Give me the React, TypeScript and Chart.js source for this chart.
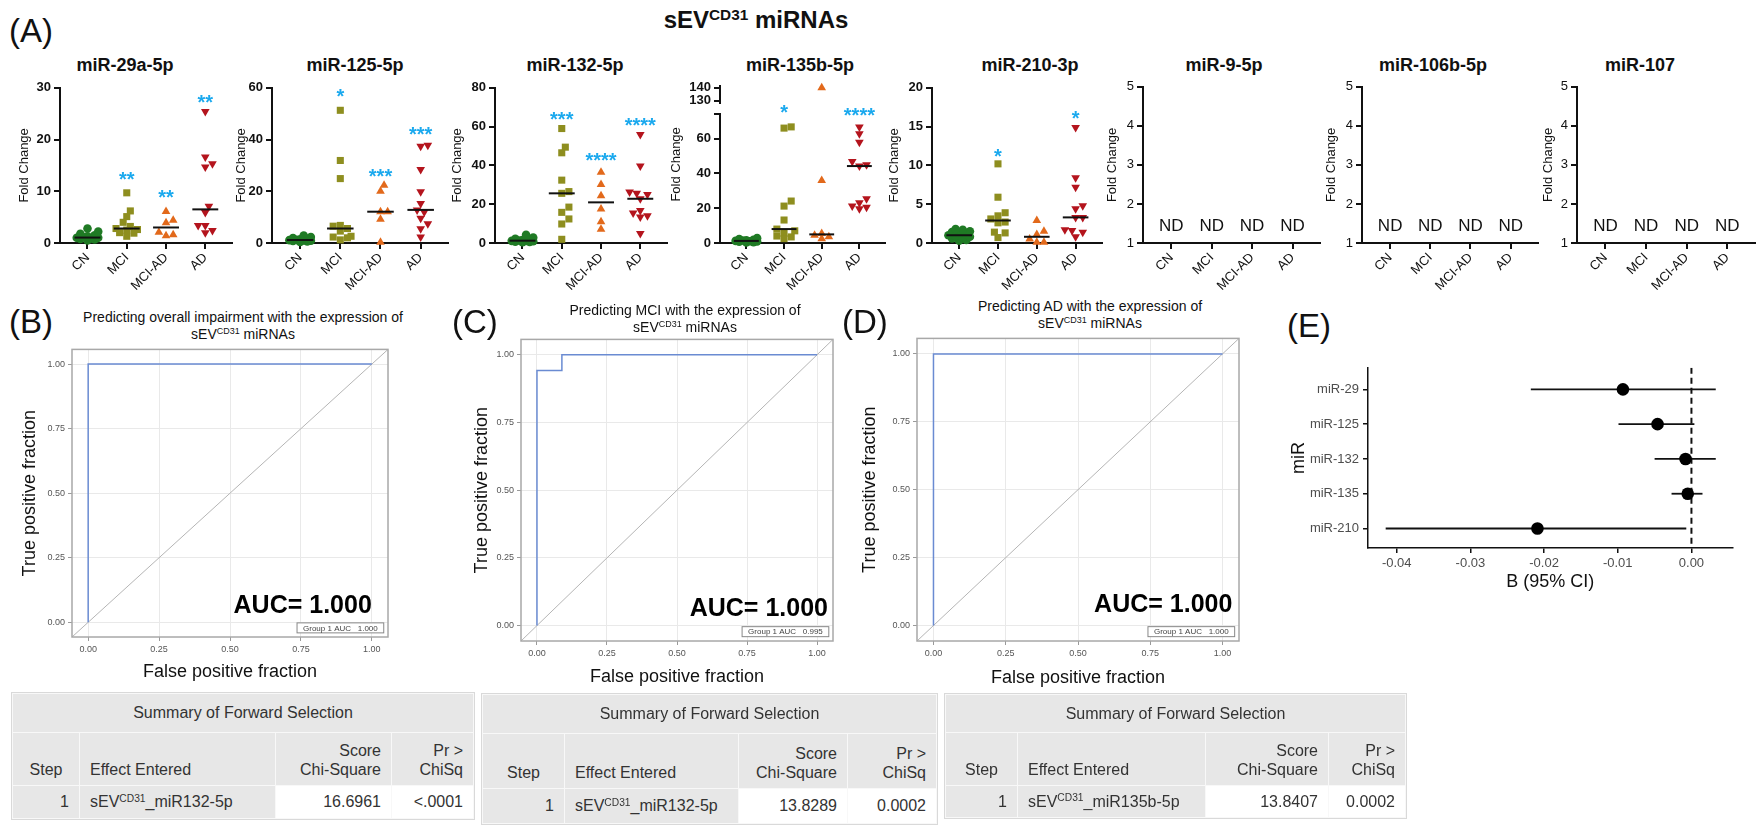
import React, { useEffect, useRef } from 'react';
import { Chart, registerables } from 'chart.js';
Chart.register(...registerables);

const FONT = "'Liberation Sans', Arial, Helvetica, sans-serif";
const INK = '#111111';
const STAR_BLUE = '#1ba9ee';

// ---------- (A) dot plots ----------
const GROUPS = ['CN', 'MCI', 'MCI-AD', 'AD'];
const GROUP_COLORS = ['#1f7a24', '#8e8e1f', '#e2691b', '#b4141d'];
const GROUP_SHAPES = ['circle', 'rect', 'triangle', 'triangle'];
const GROUP_ROTATION = [0, 0, 0, 180];
const GROUP_RADIUS = [4.3, 5, 5, 5];

const M29_CN = [0.5, 0.7, 0.8, 0.9, 1.0, 1.0, 1.1, 1.3, 1.5, 1.8, 2.2, 2.8];
const M29_MCI = [9.7, 6.2, 5.1, 4.0, 3.2, 2.8, 2.6, 2.5, 2.0, 1.9, 1.3];
const M29_MCIAD = [6.1, 4.4, 3.9, 2.1, 1.4, 1.6];
const M29_AD = [25.4, 16.6, 15.3, 14.7, 7.1, 5.9, 3.4, 3.4, 2.0, 2.4];
const M29_TICKS = [0, 10, 20, 30];
const M29_STARS = ['', '**', '**', '**'];
const M29_STAR_Y = [0, 13.3, 9.7, 28.2];

const M125_CN = [0.4, 0.6, 0.8, 0.9, 1.0, 1.1, 1.2, 1.4, 1.6, 1.9, 2.3, 2.9];
const M125_MCI = [51.3, 31.9, 24.9, 6.8, 6.5, 5.6, 4.6, 2.6, 2.3, 2.0, 1.2];
const M125_MCIAD = [22.3, 20.0, 12.1, 12.1, 9.2, 0.3];
const M125_AD = [37.4, 37.8, 28.4, 19.8, 15.3, 12.8, 12.0, 9.6, 7.4, 5.5, 2.3];
const M125_TICKS = [0, 20, 40, 60];
const M125_STARS = ['', '*', '***', '***'];
const M125_STAR_Y = [0, 58.7, 27.5, 43.8];

const M132_CN = [0.4, 0.6, 0.7, 0.9, 1.0, 1.1, 1.3, 1.5, 1.8, 2.2, 2.8, 4.2];
const M132_MCI = [59.0, 49.4, 46.5, 32.4, 26.5, 25.6, 18.5, 15.8, 12.4, 9.8, 1.9];
const M132_MCIAD = [36.5, 30.2, 24.4, 17.5, 11.0, 7.1];
const M132_AD = [55.9, 39.7, 26.3, 25.6, 25.0, 22.8, 16.8, 15.5, 14.1, 13.4, 4.9];
const M132_TICKS = [0, 20, 40, 60, 80];
const M132_STARS = ['', '***', '****', '****'];
const M132_STAR_Y = [0, 66.4, 44.8, 63.3];

const M135_CN = [0.3, 0.5, 0.7, 0.9, 1.0, 1.2, 1.4, 1.6, 1.9, 2.3, 2.8];
const M135_MCI = [66.7, 66.0, 24.1, 21.2, 13.2, 8.0, 7.0, 5.5, 4.0, 3.5, 2.5];
const M135_MCIAD = [140, 35.9, 5.4, 4.5, 3.6, 2.5];
const M135_AD = [66.7, 62.7, 57.9, 46.8, 45.0, 44.2, 25.4, 23.1, 21.2, 20.5, 19.7];
const M135_TICKS = [0, 20, 40, 60];
const M135_UP_TICKS = [130, 140];
const M135_STARS = ['', '*', '', '****'];
const M135_STAR_Y = [0, 77.6, 0, 76.3];
const BROKEN_LOWER_MAX = 74.3;
const BROKEN_UP_MIN = 128.5;
const BROKEN_UP_MAX = 141.5;

const M210_CN = [0.3, 0.4, 0.6, 0.7, 0.8, 0.9, 1.0, 1.1, 1.2, 1.4, 1.5, 1.7, 1.8];
const M210_MCI = [10.2, 5.9, 3.9, 3.5, 3.1, 2.7, 2.6, 1.4, 1.3, 0.7];
const M210_MCIAD = [2.9, 1.5, 1.1, 0.5, 0.1, 0.1];
const M210_AD = [14.9, 8.4, 7.2, 4.8, 4.4, 3.3, 3.3, 1.7, 1.6, 1.4, 0.8];
const M210_TICKS = [0, 5, 10, 15, 20];
const M210_STARS = ['', '*', '', '*'];
const M210_STAR_Y = [0, 11.8, 0, 16.7];

const ND_TICKS = [1, 2, 3, 4, 5];
const ND_TEXT = 'ND';
const ND_Y = 1.45;

// ---------- (B)-(D) ROC ----------
const ROC_MIN = -0.057;
const ROC_MAX = 1.057;
const ROC_TICKS = [0, 0.25, 0.5, 0.75, 1];
const ROC_B_FPR = [0, 0, 1];
const ROC_B_TPR = [0, 1, 1];
const ROC_C_FPR = [0, 0, 0.089, 0.089, 1];
const ROC_C_TPR = [0, 0.942, 0.942, 1, 1];
const ROC_D_FPR = [0, 0, 1];
const ROC_D_TPR = [0, 1, 1];
const ROC_GROUP_AUC = ['1.000', '0.995', '1.000'];
const ROC_AUC_LABEL = 'AUC= 1.000';

// ---------- (E) forest ----------
const FOREST_LABELS = ['miR-29', 'miR-125', 'miR-132', 'miR-135', 'miR-210'];
const FOREST_BETA = [-0.0093, -0.0046, -0.0008, -0.0005, -0.0209];
const FOREST_LO = [-0.0218, -0.0099, -0.005, -0.0027, -0.0415];
const FOREST_HI = [0.0033, 0.0004, 0.0033, 0.0015, -0.0007];
const FOREST_XTICKS = [-0.04, -0.03, -0.02, -0.01, 0];
const FOREST_XMIN = -0.0439;
const FOREST_XMAX = 0.0056;
const FOREST_YMIN = 0.38;
const FOREST_YMAX = 5.56;

// ---------- tables ----------
const TABLE_EFFECT = ['_miR132-5p', '_miR132-5p', '_miR135b-5p'];
const TABLE_SCORE = ['16.6961', '13.8289', '13.8407'];
const TABLE_P = ['<.0001', '0.0002', '0.0002'];

// ---------- layout ----------
const DOT_BOTTOM = 243;
const X_MIN = -0.7;
const X_MAX = 3.68;
const DOT_PAD = { left: 2, right: 6, top: 10, bottom: 2 };
const X_AXIS_H = 52;
const TITLE_AXIS_W = 16;
const BROKEN_UP_PX = 17;
const BROKEN_GAP_PX = 11;

const DOT_PLOTS: any[] = [
  { title: 'miR-29a-5p', titleX: 125, left: 60, right: 232, top: 87, gap: 35, yMin: 0, yMax: 30, yTicks: M29_TICKS, groups: [M29_CN, M29_MCI, M29_MCIAD, M29_AD], stars: M29_STARS, starY: M29_STAR_Y, bold: true },
  { title: 'miR-125-5p', titleX: 355, left: 272, right: 448, top: 87, gap: 30, yMin: 0, yMax: 60, yTicks: M125_TICKS, groups: [M125_CN, M125_MCI, M125_MCIAD, M125_AD], stars: M125_STARS, starY: M125_STAR_Y, bold: true },
  { title: 'miR-132-5p', titleX: 575, left: 495, right: 667, top: 87, gap: 37, yMin: 0, yMax: 80, yTicks: M132_TICKS, groups: [M132_CN, M132_MCI, M132_MCIAD, M132_AD], stars: M132_STARS, starY: M132_STAR_Y, bold: true },
  { title: 'miR-135b-5p', titleX: 800, left: 720, right: 885, top: 85, gap: 43, yMin: 0, yMax: BROKEN_LOWER_MAX, yTicks: M135_TICKS, groups: [M135_CN, M135_MCI, M135_MCIAD, M135_AD], stars: M135_STARS, starY: M135_STAR_Y, bold: true, broken: true },
  { title: 'miR-210-3p', titleX: 1030, left: 932, right: 1102, top: 87, gap: 37, yMin: 0, yMax: 20, yTicks: M210_TICKS, groups: [M210_CN, M210_MCI, M210_MCIAD, M210_AD], stars: M210_STARS, starY: M210_STAR_Y, bold: true },
  { title: 'miR-9-5p', titleX: 1224, left: 1143, right: 1320, top: 86, gap: 30, yMin: 1, yMax: 5, yTicks: ND_TICKS, groups: null, nd: true, bold: false },
  { title: 'miR-106b-5p', titleX: 1433, left: 1362, right: 1538, top: 86, gap: 30, yMin: 1, yMax: 5, yTicks: ND_TICKS, groups: null, nd: true, bold: false },
  { title: 'miR-107', titleX: 1640, left: 1577, right: 1755, top: 86, gap: 28, yMin: 1, yMax: 5, yTicks: ND_TICKS, groups: null, nd: true, bold: false },
];

function median(a: number[]) {
  const s = [...a].sort((p, q) => p - q);
  const n = s.length;
  return n % 2 ? s[(n - 1) / 2] : (s[n / 2 - 1] + s[n / 2]) / 2;
}

// deterministic beeswarm: horizontal pixel offsets so markers barely overlap
function swarm(values: number[], pxPerUnit: number, diam: number, maxOff: number): number[] {
  const idx = values.map((_, i) => i).sort((a, b) => values[a] - values[b]);
  const placed: [number, number][] = [];
  const out = values.map(() => 0);
  const step = diam * 0.55;
  for (const i of idx) {
    const y = values[i] * pxPerUnit;
    let best = 0;
    let bestScore = Infinity;
    for (let k = 0; k < 40; k++) {
      const c = k === 0 ? 0 : (k % 2 ? 1 : -1) * Math.ceil(k / 2) * step;
      if (Math.abs(c) > maxOff) break;
      const minD = placed.reduce((m, [px, py]) => Math.min(m, Math.hypot(px - c, py - y)), Infinity);
      if (minD >= diam) { best = c; bestScore = -1; break; }
      const score = -minD;
      if (score < bestScore) { bestScore = score; best = c; }
    }
    out[i] = best;
    placed.push([best, y]);
  }
  return out;
}

function buildDotConfig(p: any, yW: number): any {
  const lowerMax = p.yMax;
  const lowerPx = p.broken ? DOT_BOTTOM - p.top - BROKEN_UP_PX - BROKEN_GAP_PX : DOT_BOTTOM - p.top;
  const ppu = lowerPx / (lowerMax - p.yMin);
  const sp = (p.right - p.left) / (X_MAX - X_MIN);
  const datasets: any[] = [];
  (p.groups || []).forEach((vals: number[], g: number) => {
    const off = swarm(vals, ppu, 6.5, 14);
    const low: any[] = [];
    const up: any[] = [];
    vals.forEach((v, j) => {
      const pt = { x: g + off[j] / sp, y: v };
      (p.broken && v > lowerMax ? up : low).push(pt);
    });
    const common = {
      type: 'scatter', showLine: false, pointStyle: GROUP_SHAPES[g], pointRotation: GROUP_ROTATION[g],
      pointRadius: GROUP_RADIUS[g], pointBackgroundColor: GROUP_COLORS[g], pointBorderWidth: 0,
      pointBorderColor: GROUP_COLORS[g], clip: false, order: 2,
    };
    datasets.push({ ...common, data: low, yAxisID: 'y' });
    if (up.length) datasets.push({ ...common, data: up, yAxisID: 'yUp' });
    const m = median(vals);
    datasets.push({
      type: 'scatter', showLine: true, data: [{ x: g - 0.33, y: m }, { x: g + 0.33, y: m }],
      borderColor: INK, borderWidth: 2, pointRadius: 0, yAxisID: 'y', order: 1, clip: false,
    });
  });
  if (!datasets.length) datasets.push({ type: 'scatter', data: [] });

  const axisLine = {
    border: { display: true, color: INK, width: 2 },
    grid: { display: true, drawOnChartArea: false, drawTicks: true, tickLength: 6, color: INK, lineWidth: 2 },
  };
  const yTickFont = { family: FONT, size: 13, weight: p.bold ? 'bold' : 'normal' };
  const titleCfg = { display: true, text: 'Fold Change', color: INK, padding: 0, font: { family: FONT, size: 13 } };
  const stackW = yW - TITLE_AXIS_W;
  const scales: any = {
    x: {
      type: 'linear', min: X_MIN, max: X_MAX,
      afterBuildTicks: (s: any) => { s.ticks = GROUPS.map((_, i) => ({ value: i })); },
      ticks: { autoSkip: false, minRotation: 45, maxRotation: 45, padding: 1, color: INK, font: { family: FONT, size: 13 }, callback: (v: any) => GROUPS[v] ?? '' },
      afterFit: (s: any) => { s.height = X_AXIS_H; },
      ...axisLine,
    },
    y: {
      type: 'linear', position: 'left', min: p.yMin, max: lowerMax,
      afterBuildTicks: (s: any) => { s.ticks = p.yTicks.map((value: number) => ({ value })).concat(p.broken ? [{ value: lowerMax }] : []); },
      ticks: { autoSkip: false, color: INK, font: yTickFont, padding: 3, callback: (v: any) => (p.yTicks.includes(v) ? String(v) : '') },
      title: p.broken ? { display: false } : titleCfg,
      afterFit: (s: any) => { s.width = p.broken ? stackW : yW; },
      ...axisLine,
    },
  };
  if (p.broken) {
    scales.y.stack = 'fc';
    scales.y.stackWeight = lowerPx;
    scales.yGap = {
      type: 'linear', position: 'left', stack: 'fc', stackWeight: BROKEN_GAP_PX, min: 0, max: 1,
      ticks: { display: false }, grid: { display: false }, border: { display: false },
      afterFit: (s: any) => { s.width = stackW; },
    };
    scales.yUp = {
      type: 'linear', position: 'left', stack: 'fc', stackWeight: BROKEN_UP_PX, min: BROKEN_UP_MIN, max: BROKEN_UP_MAX,
      afterBuildTicks: (s: any) => { s.ticks = M135_UP_TICKS.map((value) => ({ value })); },
      ticks: { autoSkip: false, color: INK, font: yTickFont, padding: 3 },
      afterFit: (s: any) => { s.width = stackW; },
      ...axisLine,
    };
    scales.yT = {
      type: 'linear', position: 'left', min: 0, max: 1,
      ticks: { display: false }, grid: { display: false }, border: { display: false },
      title: titleCfg,
      afterFit: (s: any) => { s.width = TITLE_AXIS_W; },
    };
  }

  const annot = {
    id: 'dotAnnot',
    afterDatasetsDraw(chart: any) {
      const ctx = chart.ctx;
      const xs = chart.scales.x;
      const ys = chart.scales.y;
      ctx.save();
      if (p.stars) {
        ctx.fillStyle = STAR_BLUE;
        ctx.font = `bold 20px ${FONT}`;
        ctx.textAlign = 'center';
        ctx.textBaseline = 'alphabetic';
        p.stars.forEach((s: string, g: number) => {
          if (s) ctx.fillText(s, xs.getPixelForValue(g), ys.getPixelForValue(p.starY[g]) + 11.4);
        });
      }
      if (p.nd) {
        ctx.fillStyle = INK;
        ctx.font = `17px ${FONT}`;
        ctx.textAlign = 'center';
        ctx.textBaseline = 'alphabetic';
        GROUPS.forEach((_, g) => ctx.fillText(ND_TEXT, xs.getPixelForValue(g), ys.getPixelForValue(ND_Y) + 6));
      }
      ctx.restore();
    },
  };

  return {
    type: 'scatter',
    data: { datasets },
    options: {
      animation: false, responsive: false, maintainAspectRatio: false, events: [],
      layout: { padding: DOT_PAD },
      plugins: { legend: { display: false }, tooltip: { enabled: false }, title: { display: false } },
      scales,
    },
    plugins: [annot],
  };
}

function DotPlot({ p }: { p: any }) {
  const ref = useRef<HTMLCanvasElement>(null);
  const yW = Math.round(p.gap + 7.8);
  const cl = p.left - yW - DOT_PAD.left;
  const ct = p.top - DOT_PAD.top;
  const cw = p.right + DOT_PAD.right - cl;
  const ch = DOT_BOTTOM + X_AXIS_H + DOT_PAD.bottom - ct;
  useEffect(() => {
    const chart = new Chart(ref.current as HTMLCanvasElement, buildDotConfig(p, yW));
    return () => chart.destroy();
  }, []);
  return <canvas ref={ref} width={cw} height={ch} style={{ position: 'absolute', left: cl, top: ct, width: cw, height: ch, display: 'block' }} />;
}

// ---------- ROC ----------
const ROC_PAD = { left: 2, right: 6, top: 8, bottom: 2 };
const ROC_PANELS: any[] = [
  { fpr: ROC_B_FPR, tpr: ROC_B_TPR, auc: ROC_GROUP_AUC[0], left: 72, right: 388, top: 349, bottom: 637, yW: 53, xH: 46, aucX: 1.0, aucY: 0.035 },
  { fpr: ROC_C_FPR, tpr: ROC_C_TPR, auc: ROC_GROUP_AUC[1], left: 521, right: 833, top: 339, bottom: 641, yW: 50, xH: 47, aucX: 1.039, aucY: 0.037 },
  { fpr: ROC_D_FPR, tpr: ROC_D_TPR, auc: ROC_GROUP_AUC[2], left: 917, right: 1239, top: 338, bottom: 641, yW: 58, xH: 48, aucX: 1.034, aucY: 0.048 },
];

function rocAxis(title: string, fit: (s: any) => void) {
  return {
    type: 'linear', min: ROC_MIN, max: ROC_MAX,
    afterBuildTicks: (s: any) => { s.ticks = ROC_TICKS.map((value) => ({ value })); },
    ticks: { color: '#555', font: { family: FONT, size: 9 }, padding: 3, maxRotation: 0, autoSkip: false, callback: (v: any) => Number(v).toFixed(2) },
    grid: { color: '#e9e9e9', lineWidth: 1, tickColor: '#9a9a9a', tickLength: 4, drawTicks: true },
    border: { display: false },
    title: { display: true, text: title, color: INK, padding: 0, font: { family: FONT, size: 18 } },
    afterFit: fit,
  };
}

function buildRocConfig(r: any): any {
  const annot = {
    id: 'rocAnnot',
    afterDatasetsDraw(chart: any) {
      const { ctx, chartArea: a } = chart;
      const xs = chart.scales.x;
      const ys = chart.scales.y;
      ctx.save();
      ctx.strokeStyle = '#a8a8a8';
      ctx.lineWidth = 1.5;
      ctx.strokeRect(a.left, a.top, a.right - a.left, a.bottom - a.top);
      ctx.fillStyle = '#000';
      ctx.font = `bold 25px ${FONT}`;
      ctx.textAlign = 'right';
      ctx.textBaseline = 'alphabetic';
      ctx.fillText(ROC_AUC_LABEL, xs.getPixelForValue(r.aucX), ys.getPixelForValue(r.aucY));
      const txt = `Group 1 AUC   ${r.auc}`;
      ctx.font = `8px ${FONT}`;
      const w = ctx.measureText(txt).width + 12;
      const bx = xs.getPixelForValue(1.042);
      const by = ys.getPixelForValue(-0.041);
      ctx.fillStyle = '#fff';
      ctx.fillRect(bx - w, by - 10, w, 10);
      ctx.strokeStyle = '#888';
      ctx.lineWidth = 1;
      ctx.strokeRect(bx - w, by - 10, w, 10);
      ctx.fillStyle = '#444';
      ctx.textAlign = 'center';
      ctx.textBaseline = 'middle';
      ctx.fillText(txt, bx - w / 2, by - 4.5);
      ctx.restore();
    },
  };
  return {
    type: 'scatter',
    data: {
      datasets: [
        { data: r.fpr.map((x: number, i: number) => ({ x, y: r.tpr[i] })), showLine: true, borderColor: '#6a8bd2', borderWidth: 1.5, pointRadius: 0, clip: false, order: 0 },
        { data: [{ x: ROC_MIN, y: ROC_MIN }, { x: ROC_MAX, y: ROC_MAX }], showLine: true, borderColor: '#b5b5b5', borderWidth: 1, pointRadius: 0, order: 1 },
      ],
    },
    options: {
      animation: false, responsive: false, maintainAspectRatio: false, events: [],
      layout: { padding: ROC_PAD },
      plugins: { legend: { display: false }, tooltip: { enabled: false } },
      scales: {
        x: rocAxis('False positive fraction', (s: any) => { s.height = r.xH; }),
        y: rocAxis('True positive fraction', (s: any) => { s.width = r.yW; }),
      },
    },
    plugins: [annot],
  };
}

function RocPlot({ r }: { r: any }) {
  const ref = useRef<HTMLCanvasElement>(null);
  const cl = r.left - r.yW - ROC_PAD.left;
  const ct = r.top - ROC_PAD.top;
  const cw = r.right + ROC_PAD.right - cl;
  const ch = r.bottom + r.xH + ROC_PAD.bottom - ct;
  useEffect(() => {
    const chart = new Chart(ref.current as HTMLCanvasElement, buildRocConfig(r));
    return () => chart.destroy();
  }, []);
  return <canvas ref={ref} width={cw} height={ch} style={{ position: 'absolute', left: cl, top: ct, width: cw, height: ch, display: 'block' }} />;
}

// ---------- Forest ----------
const FOREST_BOX = { left: 1368, right: 1733, top: 364, bottom: 548, yW: 80, xH: 45 };

function ForestPlot() {
  const ref = useRef<HTMLCanvasElement>(null);
  const f = FOREST_BOX;
  const pad = { left: 2, right: 6, top: 8, bottom: 2 };
  const cl = f.left - f.yW - pad.left;
  const ct = f.top - pad.top;
  const cw = f.right + pad.right - cl;
  const ch = f.bottom + f.xH + pad.bottom - ct;
  useEffect(() => {
    const axisLine = {
      border: { display: true, color: INK, width: 1.5 },
      grid: { display: true, drawOnChartArea: false, drawTicks: true, tickLength: 5, color: INK, lineWidth: 1.5 },
    };
    const datasets: any[] = FOREST_LABELS.map((_, i) => ({
      data: [{ x: FOREST_LO[i], y: i + 1 }, { x: FOREST_HI[i], y: i + 1 }],
      showLine: true, borderColor: INK, borderWidth: 1.8, pointRadius: 0, order: 2, clip: false,
    }));
    datasets.push({
      data: [{ x: 0, y: FOREST_YMIN }, { x: 0, y: FOREST_YMAX }], showLine: true, borderColor: INK,
      borderWidth: 2, borderDash: [6, 4], pointRadius: 0, order: 3,
    });
    datasets.push({
      data: FOREST_BETA.map((b, i) => ({ x: b, y: i + 1 })), showLine: false, pointRadius: 6.3,
      pointBackgroundColor: '#000', pointBorderWidth: 0, order: 0, clip: false,
    });
    const chart = new Chart(ref.current as HTMLCanvasElement, {
      type: 'scatter',
      data: { datasets },
      options: {
        animation: false, responsive: false, maintainAspectRatio: false, events: [],
        layout: { padding: pad },
        plugins: { legend: { display: false }, tooltip: { enabled: false } },
        scales: {
          x: {
            type: 'linear', min: FOREST_XMIN, max: FOREST_XMAX,
            afterBuildTicks: (s: any) => { s.ticks = FOREST_XTICKS.map((value) => ({ value })); },
            ticks: { color: '#4d4d4d', font: { family: FONT, size: 13 }, padding: 3, maxRotation: 0, autoSkip: false, callback: (v: any) => Number(v).toFixed(2) },
            title: { display: true, text: 'B (95% CI)', color: INK, padding: 0, font: { family: FONT, size: 18 } },
            afterFit: (s: any) => { s.height = f.xH; },
            ...axisLine,
          },
          y: {
            type: 'linear', reverse: true, min: FOREST_YMIN, max: FOREST_YMAX,
            afterBuildTicks: (s: any) => { s.ticks = FOREST_LABELS.map((_, i) => ({ value: i + 1 })); },
            ticks: { color: '#4d4d4d', font: { family: FONT, size: 13 }, padding: 4, autoSkip: false, callback: (v: any) => FOREST_LABELS[v - 1] ?? '' },
            title: { display: true, text: 'miR', color: INK, padding: 0, font: { family: FONT, size: 18 } },
            afterFit: (s: any) => { s.width = f.yW; },
            ...axisLine,
          },
        },
      },
    } as any);
    return () => chart.destroy();
  }, []);
  return <canvas ref={ref} width={cw} height={ch} style={{ position: 'absolute', left: cl, top: ct, width: cw, height: ch, display: 'block' }} />;
}

// ---------- HTML text & tables ----------
const Sup = ({ children }: any) => (
  <span style={{ fontSize: '0.64em', position: 'relative', top: '-0.5em' }}>{children}</span>
);

function Txt({ x, y, size, bold, center, children, lh }: any) {
  const l = lh || Math.round(size * 1.2);
  return (
    <div style={{
      position: 'absolute', left: x, top: y - l / 2, lineHeight: `${l}px`, fontSize: size,
      fontWeight: bold ? 'bold' : 'normal', whiteSpace: 'nowrap', transform: center ? 'translateX(-50%)' : undefined,
    }}>{children}</div>
  );
}

const TABLES = [
  { left: 12, top: 693, cols: [67, 196, 116, 82], rows: [39, 53, 33] },
  { left: 482, top: 694, cols: [82, 174, 109, 89], rows: [39, 55, 35] },
  { left: 945, top: 694, cols: [72, 188, 123, 77], rows: [38, 53, 32] },
];

function SumTable({ t, i }: any) {
  const gray = '#e7e7e7';
  const cell: any = { border: '1px solid #f8f8f8', padding: '0 10px', overflow: 'hidden', whiteSpace: 'nowrap' };
  const hd: any = { ...cell, background: gray, verticalAlign: 'bottom', paddingBottom: 6, lineHeight: '19px' };
  const dt: any = { ...cell, verticalAlign: 'middle' };
  const width = t.cols.reduce((a: number, b: number) => a + b, 0);
  return (
    <table style={{
      position: 'absolute', left: t.left, top: t.top, width, borderCollapse: 'collapse', tableLayout: 'fixed',
      fontFamily: FONT, fontSize: 16, color: '#333', outline: '1px solid #d9d9d9',
    }}>
      <colgroup>{t.cols.map((w: number, k: number) => <col key={k} style={{ width: w }} />)}</colgroup>
      <tbody>
        <tr style={{ height: t.rows[0] }}>
          <td colSpan={4} style={{ ...cell, background: gray, textAlign: 'center' }}>Summary of Forward Selection</td>
        </tr>
        <tr style={{ height: t.rows[1] }}>
          <td style={{ ...hd, textAlign: 'center' }}>Step</td>
          <td style={{ ...hd, textAlign: 'left' }}>Effect Entered</td>
          <td style={{ ...hd, textAlign: 'right' }}>Score<br />Chi-Square</td>
          <td style={{ ...hd, textAlign: 'right' }}>Pr &gt;<br />ChiSq</td>
        </tr>
        <tr style={{ height: t.rows[2] }}>
          <td style={{ ...dt, background: gray, textAlign: 'right' }}>1</td>
          <td style={{ ...dt, background: gray, textAlign: 'left' }}>sEV<Sup>CD31</Sup>{TABLE_EFFECT[i]}</td>
          <td style={{ ...dt, background: '#fff', textAlign: 'right' }}>{TABLE_SCORE[i]}</td>
          <td style={{ ...dt, background: '#fff', textAlign: 'right' }}>{TABLE_P[i]}</td>
        </tr>
      </tbody>
    </table>
  );
}

export default function App() {
  useEffect(() => {
    document.body.style.margin = '0';
    document.body.style.overflow = 'hidden';
    document.documentElement.style.overflow = 'hidden';
  }, []);
  return (
    <div style={{ position: 'absolute', left: 0, top: 0, width: 1761, height: 828, overflow: 'hidden', background: '#fff', fontFamily: FONT, color: INK }}>
      <Txt x={756} y={20} size={24} bold center lh={28}>sEV<Sup>CD31</Sup> miRNAs</Txt>
      <Txt x={9} y={31} size={33} lh={40}>(A)</Txt>
      {DOT_PLOTS.map((p) => <Txt key={p.title + 't'} x={p.titleX} y={65} size={18} bold center lh={22}>{p.title}</Txt>)}
      {DOT_PLOTS.map((p) => <DotPlot key={p.title} p={p} />)}

      <Txt x={9} y={322} size={33} lh={40}>(B)</Txt>
      <Txt x={452} y={322} size={33} lh={40}>(C)</Txt>
      <Txt x={842} y={322} size={33} lh={40}>(D)</Txt>
      <Txt x={1287} y={326} size={33} lh={40}>(E)</Txt>

      <Txt x={243} y={317} size={14} center lh={17}>Predicting overall impairment with the expression of</Txt>
      <Txt x={243} y={334} size={14} center lh={17}>sEV<Sup>CD31</Sup> miRNAs</Txt>
      <Txt x={685} y={310} size={14} center lh={17}>Predicting MCI with the expression of</Txt>
      <Txt x={685} y={327} size={14} center lh={17}>sEV<Sup>CD31</Sup> miRNAs</Txt>
      <Txt x={1090} y={306} size={14} center lh={17}>Predicting AD with the expression of</Txt>
      <Txt x={1090} y={323} size={14} center lh={17}>sEV<Sup>CD31</Sup> miRNAs</Txt>

      {ROC_PANELS.map((r, k) => <RocPlot key={k} r={r} />)}
      <ForestPlot />
      {TABLES.map((t, k) => <SumTable key={k} t={t} i={k} />)}
    </div>
  );
}
